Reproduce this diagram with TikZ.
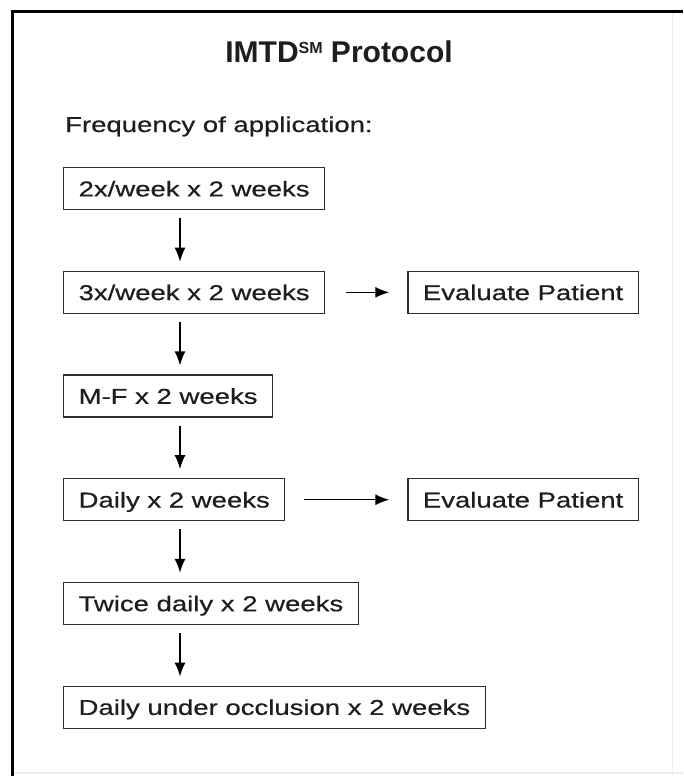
\documentclass[tikz,border=0pt]{standalone}
\usepackage{fontspec}
\setmainfont[FakeStretch=1.28,FakeBold=0.6]{Liberation Sans}
\newfontfamily\titlefont{Liberation Sans}
\usepackage{xcolor}
\usepackage{tikz}
\usetikzlibrary{arrows.meta,positioning,calc}
\definecolor{inkText}{HTML}{1E1E1E}
\definecolor{inkLine}{HTML}{2E2E2E}
\definecolor{frameFaint}{HTML}{EEEEEE}

\begin{document}
\begin{tikzpicture}[
    x=1pt, y=-1pt,
    node distance=60.4pt and 82pt,
    box/.style={rectangle, draw=inkLine, line width=1.3pt, text=inkText, inner xsep=15pt, inner ysep=0pt,
        minimum height=42pt, text height=15.5pt, text depth=0pt, font=\fontsize{21.5}{26}\selectfont},
    stepbox/.style={box},
    evalbox/.style={box},
    arrow/.style={-{Latex[length=14pt,width=11pt]}, line width=1.4pt, draw=black},
    frame/.style={line width=3pt, draw=black}
]
    \useasboundingbox (0,0) rectangle (683,776);

    % Frame
    \draw[frameFaint, line width=1.5pt] (672.5,12) -- (672.5,776);
    \draw[frameFaint, line width=1.5pt] (12,773) -- (683,773);
    \draw[frame] (12.5,776) -- (12.5,11.5) -- (683,11.5);

    % Heading
    \node[anchor=base, inner sep=0pt, text=inkText, font=\titlefont\bfseries\fontsize{30}{36}\selectfont]
        (title) at (339,63) {IMTD\raisebox{9.5pt}{\fontsize{16}{16}\selectfont SM} Protocol};
    \node[anchor=base west, inner sep=0pt, text=inkText, font=\fontsize{21.5}{26}\selectfont]
        (freq) at (65,132) {Frequency of application:};

    % Nodes
    \node[stepbox, anchor=north west] (twoweek) at (63,167) {2x/week x 2 weeks};
    \node[stepbox, below=of twoweek.south west, anchor=north west] (threewk) {3x/week x 2 weeks};
    \node[stepbox, below=of threewk.south west, anchor=north west] (mofr) {M-F x 2 weeks};
    \node[stepbox, below=of mofr.south west, anchor=north west] (daily) {Daily x 2 weeks};
    \node[stepbox, below=of daily.south west, anchor=north west] (twice) {Twice daily x 2 weeks};
    \node[stepbox, below=of twice.south west, anchor=north west] (occl) {Daily under occlusion x 2 weeks};

    \node[evalbox, right=of threewk] (evalone) {Evaluate Patient};
    \node[evalbox] (evaltwo) at (evalone |- daily) {Evaluate Patient};

    \coordinate (spine) at (180,0);

    % Edges
    \draw[arrow, shorten <=8pt, shorten >=9pt] (twoweek.south -| spine) -- (threewk.north -| spine);
    \draw[arrow, shorten <=8pt, shorten >=9pt] (threewk.south -| spine) -- (mofr.north -| spine);
    \draw[arrow, shorten <=8pt, shorten >=9pt] (mofr.south -| spine) -- (daily.north -| spine);
    \draw[arrow, shorten <=8pt, shorten >=9pt] (daily.south -| spine) -- (twice.north -| spine);
    \draw[arrow, shorten <=8pt, shorten >=9pt] (twice.south -| spine) -- (occl.north -| spine);

    \draw[arrow, shorten <=21pt, shorten >=18pt] (threewk.east) -- (evalone.west);
    \draw[arrow, shorten <=19pt, shorten >=18pt] (daily.east) -- (evaltwo.west);

\end{tikzpicture}
\end{document}
